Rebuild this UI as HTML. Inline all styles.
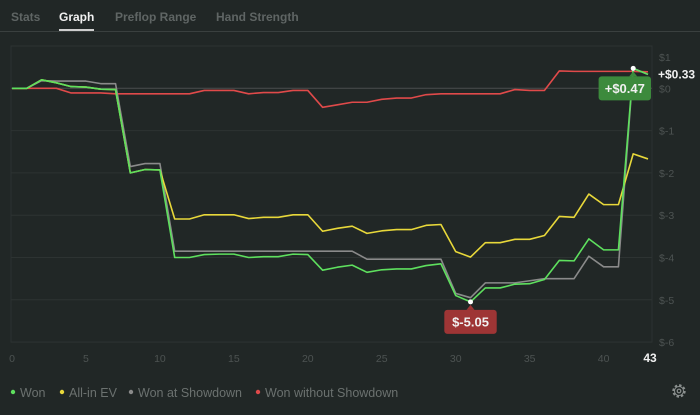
<!DOCTYPE html>
<html><head><meta charset="utf-8"><style>
html,body{margin:0;padding:0;background:#212726;width:700px;height:415px;overflow:hidden;font-family:"Liberation Sans",sans-serif}
.tabs{position:absolute;left:0;top:0;width:700px;height:31px;border-bottom:1px solid #3a403f}
.tab{position:absolute;top:10px;font-size:12px;font-weight:bold;color:#5f6564}
.tab.active{color:#f0f0f0}
.tab.active:after{content:"";position:absolute;left:0;right:0;top:19px;height:2px;background:#cfcfcf}
svg{position:absolute;left:0;top:0}
</style></head><body>
<div class="tabs">
<span class="tab" style="left:11px">Stats</span>
<span class="tab active" style="left:59px">Graph</span>
<span class="tab" style="left:115px">Preflop Range</span>
<span class="tab" style="left:216px">Hand Strength</span>
</div>
<svg id="chart" width="700" height="415"></svg>
<script>
const won=[0,0,0.2,0.13,0.04,0.03,-0.02,-0.03,-2.0,-1.92,-1.93,-4.0,-4.0,-3.93,-3.92,-3.92,-4.0,-3.98,-3.98,-3.92,-3.93,-4.3,-4.23,-4.18,-4.35,-4.29,-4.27,-4.27,-4.19,-4.15,-4.9,-5.05,-4.72,-4.72,-4.63,-4.62,-4.52,-4.07,-4.08,-3.56,-3.82,-3.82,0.47,0.33];
const allinEV=[0,0,0.2,0.13,0.04,0.03,-0.02,-0.03,-2.0,-1.92,-1.93,-3.09,-3.09,-2.99,-2.99,-2.99,-3.08,-3.05,-3.05,-2.99,-2.99,-3.38,-3.31,-3.26,-3.43,-3.37,-3.34,-3.34,-3.24,-3.22,-3.86,-3.99,-3.65,-3.65,-3.57,-3.57,-3.48,-3.03,-3.05,-2.5,-2.75,-2.75,-1.55,-1.67];
const showdown=[0,0,0.18,0.17,0.17,0.17,0.11,0.11,-1.85,-1.78,-1.78,-3.85,-3.85,-3.85,-3.85,-3.85,-3.85,-3.85,-3.85,-3.85,-3.85,-3.85,-3.85,-3.85,-4.04,-4.04,-4.04,-4.04,-4.04,-4.04,-4.85,-4.95,-4.6,-4.6,-4.6,-4.55,-4.5,-4.5,-4.5,-3.97,-4.22,-4.22,0.47,0.33];
const noShowdown=[0,0,0,0,-0.11,-0.11,-0.11,-0.13,-0.13,-0.13,-0.13,-0.13,-0.13,-0.05,-0.05,-0.05,-0.13,-0.1,-0.1,-0.05,-0.05,-0.45,-0.39,-0.33,-0.33,-0.26,-0.23,-0.23,-0.15,-0.13,-0.13,-0.13,-0.13,-0.13,-0.03,-0.05,-0.05,0.41,0.4,0.4,0.4,0.4,0.4,0.39];
const yTicks=[1,0,-1,-2,-3,-4,-5,-6];
const xTicks=[0,5,10,15,20,25,30,35,40];
const NS="http://www.w3.org/2000/svg";
const svg=document.getElementById('chart');
const X=i=>12+i*(636/43);
const Y=v=>88.3-v*42.3;
function el(t,a,p){const e=document.createElementNS(NS,t);for(const k in a)e.setAttribute(k,a[k]);(p||svg).appendChild(e);return e;}
const frame=el('rect',{x:11,y:46,width:641,height:296,fill:'none',stroke:'#2c3231','stroke-width':1});


yTicks.forEach(v=>{
 const g=el('line',{x1:11,x2:652,y1:Y(v),y2:Y(v),stroke:v===0?'#4a4f4e':'#2d3332','stroke-width':1});
 
 
 const ly=Math.max(Y(v)+4,61);
 const t=el('text',{x:659,y:ly,fill:'#4d5352','font-size':10.5});
 t.textContent='$'+v;
 
 
});
xTicks.forEach(v=>{
 const t=el('text',{x:X(v),y:362,fill:'#4d5352','font-size':10.5,'text-anchor':'middle'});
 t.textContent=v;
 
 
});
const last=el('text',{x:650,y:362,fill:'#f0f0f0','font-size':12,'font-weight':'bold','text-anchor':'middle'});
last.textContent=won.length-1;


function series(d,c,name){
 const p=el('polyline',{points:d.map((v,i)=>X(i)+','+Y(v)).join(' '),fill:'none',stroke:c,'stroke-width':1.6,'stroke-linejoin':'round'});
 
 
}
series(noShowdown,'#e04a4a','won-without-showdown-line');
series(showdown,'#8a8a8a','won-at-showdown-line');
series(allinEV,'#e8d83a','all-in-ev-line');
series(won,'#5ee05e','won-line');
let mx=0,mn=0;won.forEach((v,i)=>{if(v>won[mx])mx=i;if(v<won[mn])mn=i;});
function tip(i,v,bg,label,name){
 const cx=X(i),cy=Y(v);
 el('circle',{cx:cx,cy:cy,r:2.5,fill:'#fff'});
 const w=label.length*7.4+8,h=24;
 let bx=Math.min(cx-w/2,651-w),by=cy+8;
 const g=el('g',{});
 
 
 el('rect',{x:bx,y:by,width:w,height:h,rx:3,fill:bg},g);
 el('path',{d:`M${cx-4},${by} L${cx},${by-5} L${cx+4},${by} Z`,fill:bg},g);
 const t=el('text',{x:bx+w/2,y:by+16.5,fill:'#f0f0f0','font-size':13,'font-weight':'bold','text-anchor':'middle'},g);
 t.textContent=label;
}
tip(mx,won[mx],'#3c8a3c',(won[mx]>=0?'+$':'$')+won[mx].toFixed(2),'max-tooltip');
tip(mn,won[mn],'#9e3535','$'+won[mn].toFixed(2),'min-tooltip');
const fin=el('text',{x:658,y:Y(won[won.length-1])+4,fill:'#f0f0f0','font-size':12,'font-weight':'bold'});
fin.textContent='+$'+won[won.length-1].toFixed(2);


const leg=[['Won','#5ee05e',10],['All-in EV','#e8d83a',59],['Won at Showdown','#8a8a8a',128],['Won without Showdown','#e04a4a',255]];
leg.forEach(([n,c,x])=>{
 const g=el('g',{});
 
 
 el('circle',{cx:x+3,cy:392,r:2.2,fill:c},g);
 const t=el('text',{x:x+10,y:397,fill:'#6b716f','font-size':12.5},g);
 t.textContent=n;
});
const gear=el('g',{transform:'translate(679,391)'});


el('circle',{r:5.5,fill:'none',stroke:'#8a8f8e','stroke-width':2.4,'stroke-dasharray':'2.4 1.9'},gear);
el('circle',{r:4.5,fill:'none',stroke:'#8a8f8e','stroke-width':1},gear);
el('circle',{r:1.8,fill:'none',stroke:'#8a8f8e','stroke-width':1.2},gear);
</script>
</body></html>
